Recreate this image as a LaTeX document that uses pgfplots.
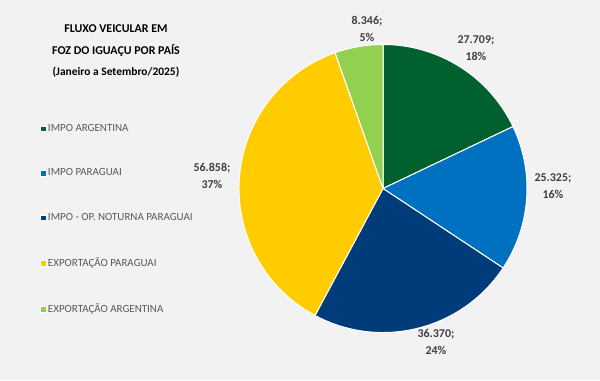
\documentclass[border=0pt]{standalone}
\usepackage{pgfplots}
\pgfplotsset{compat=1.18}
\usepackage{pgfplotstable}
\usepackage{fontspec}
\setmainfont{Carlito}
\definecolor{bg}{HTML}{F2F2F2}
\definecolor{c0}{HTML}{00612E}
\definecolor{c1}{HTML}{0070C0}
\definecolor{c2}{HTML}{003B7A}
\definecolor{c3}{HTML}{FFCC00}
\definecolor{c4}{HTML}{92D050}
\definecolor{lbl}{HTML}{404040}
\definecolor{leg}{HTML}{595959}
% value and label position (x, y in bp from lower left)
\pgfplotstableread{
idx value lx ly
0 27709 476 332
1 25325 553 194
2 36370 436 38
3 56858 212 204
4 8346 367 351
}\piedata
% totals and angles
\xdef\total{0}
\pgfplotsforeachungrouped \i in {0,...,4}{%
  \pgfplotstablegetelem{\i}{value}\of\piedata
  \xdef\total{\fpeval{\total+\pgfplotsretval}}%
}
\xdef\cum{0}
\pgfplotsforeachungrouped \i in {0,...,4}{%
  \pgfplotstablegetelem{\i}{value}\of\piedata
  \let\v\pgfplotsretval
  \edef\s{\fpeval{round(90-360*\cum/\total,4)}}%
  \edef\newcum{\fpeval{\cum+\v}}%
  \edef\e{\fpeval{round(90-360*\newcum/\total,4)}}%
  \edef\p{\fpeval{round(100*\v/\total)}}%
  \expandafter\xdef\csname s\i\endcsname{\s}%
  \expandafter\xdef\csname e\i\endcsname{\e}%
  \expandafter\xdef\csname p\i\endcsname{\p}%
  \expandafter\xdef\csname v\i\endcsname{\v}%
  \pgfplotstablegetelem{\i}{lx}\of\piedata
  \expandafter\xdef\csname lx\i\endcsname{\pgfplotsretval}%
  \pgfplotstablegetelem{\i}{ly}\of\piedata
  \expandafter\xdef\csname ly\i\endcsname{\pgfplotsretval}%
  \xdef\cum{\newcum}%
}
\begin{document}
\begin{tikzpicture}
\begin{axis}[
  x=1bp, y=1bp, scale only axis,
  xmin=0, xmax=600, ymin=0, ymax=380,
  axis lines=none, ticks=none, clip=false,
  legend style={at={(axis cs:40,258)}, anchor=north west, draw=none, fill=none,
    font=\fontsize{11}{13}\selectfont, text=leg, row sep=32bp, inner sep=0pt,
    /tikz/every even column/.style={column sep=1bp}},
  legend cell align=left,
]
\fill[bg] (axis cs:0,0) rectangle (axis cs:600,380);
\pgfplotsinvokeforeach{0,...,4}{
  \fill[c#1, draw=white, line width=1bp, line join=round]
    (axis cs:383,191.5) -- ++(\csname s#1\endcsname:144bp)
    arc[start angle=\csname s#1\endcsname, end angle=\csname e#1\endcsname, radius=144bp] -- cycle;
}
\pgfplotsinvokeforeach{0,...,4}{
  \node[align=center, text=lbl, font=\bfseries\fontsize{12}{17}\selectfont]
    at (axis cs:\csname lx#1\endcsname,\csname ly#1\endcsname)
    {\pgfmathprintnumber[1000 sep={.}, assume math mode=true]{\csname v#1\endcsname};\\\csname p#1\endcsname\%};
}
\node[align=center, font=\bfseries\fontsize{12}{22}\selectfont, text=black]
  at (axis cs:116,329) {FLUXO VEICULAR EM\\FOZ DO IGUAÇU POR PAÍS\\{\fontsize{11.5}{22}\selectfont (Janeiro a Setembro/2025)}};
\addlegendimage{legend image code/.code={\filldraw[fill=c0,draw=white,line width=0.4bp] (0bp,-2.7bp) rectangle (5.4bp,2.7bp);}}
\addlegendentry{IMPO ARGENTINA}
\addlegendimage{legend image code/.code={\filldraw[fill=c1,draw=white,line width=0.4bp] (0bp,-2.7bp) rectangle (5.4bp,2.7bp);}}
\addlegendentry{IMPO PARAGUAI}
\addlegendimage{legend image code/.code={\filldraw[fill=c2,draw=white,line width=0.4bp] (0bp,-2.7bp) rectangle (5.4bp,2.7bp);}}
\addlegendentry{IMPO - OP. NOTURNA PARAGUAI}
\addlegendimage{legend image code/.code={\filldraw[fill=c3,draw=white,line width=0.4bp] (0bp,-2.7bp) rectangle (5.4bp,2.7bp);}}
\addlegendentry{EXPORTAÇÃO PARAGUAI}
\addlegendimage{legend image code/.code={\filldraw[fill=c4,draw=white,line width=0.4bp] (0bp,-2.7bp) rectangle (5.4bp,2.7bp);}}
\addlegendentry{EXPORTAÇÃO ARGENTINA}
\end{axis}
\end{tikzpicture}
\end{document}
